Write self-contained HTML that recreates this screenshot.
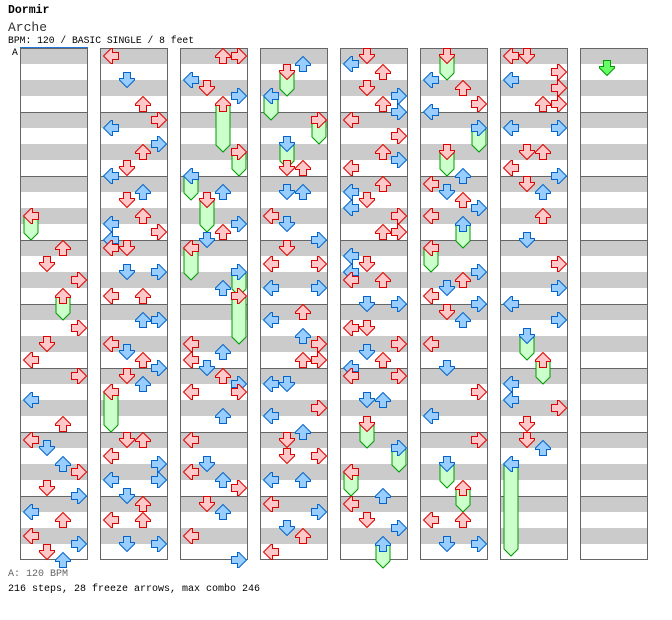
<!DOCTYPE html>
<html><head><meta charset="utf-8">
<style>
html,body{margin:0;padding:0;background:#fff;width:672px;height:620px;overflow:hidden;position:relative;font-family:"Liberation Mono",monospace;}
.t{position:absolute;white-space:pre;line-height:1;}
</style></head><body>
<div class="t" style="left:8px;top:5px;font-size:11.5px;font-weight:bold;">Dormir</div>
<div class="t" style="left:8px;top:21px;font-size:13px;color:#333;">Arche</div>
<div class="t" style="left:8px;top:36px;font-size:9.7px;">BPM: 120 / BASIC SINGLE / 8 feet</div>
<div class="t" style="left:12px;top:48px;font-size:9.7px;">A</div>
<div class="t" style="left:8px;top:570px;font-size:10px;color:#666;">A: 120 BPM</div>
<div class="t" style="left:8px;top:585px;font-size:10px;">216 steps, 28 freeze arrows, max combo 246</div>
<svg id="s" width="672" height="620" style="position:absolute;left:0;top:0" xmlns="http://www.w3.org/2000/svg"></svg>
<script>
var cols=[
"0,20,22 2,24 1,26 3,28 2,30,32 3,34 1,36 0,38 3,40 0,43 2,46 0,48 1,49 2,51 3,52 1,54 3,55 0,57 2,58 0,60 3,61 1,62 2,63",
"0,0 1,3 2,6 3,8 0,9 3,11 2,12 1,14 0,15 2,17 1,18 2,20 0,21 3,22 0,23 0,24 1,24 1,27 3,27 0,30 2,30 2,33 3,33 0,36 1,37 2,38 3,39 1,40 2,41 0,42,46 1,48 2,48 0,50 3,51 0,53 3,53 1,55 2,56 0,58 2,58 1,61 3,61",
"2,0 3,0 0,3 1,4 3,5 2,6,11 3,12,14 0,15,17 2,17 1,18,21 3,21 2,22 1,23 0,24,27 3,27,29 2,29 3,30,35 0,36 2,37 0,38 1,39 2,40 3,41 0,42 3,42 2,45 0,48 1,51 0,52 2,53 3,54 1,56 2,57 0,60 3,63",
"2,1 1,2,4 0,5,7 3,8,10 1,11,13 1,14 2,14 1,17 2,17 0,20 1,21 3,23 1,24 0,26 3,26 0,29 3,29 2,32 0,33 2,35 3,36 2,38 3,38 0,41 1,41 3,44 0,45 2,47 1,48 1,50 3,50 0,53 2,53 0,56 3,57 1,59 2,60 0,62",
"1,0 0,1 2,2 1,4 3,5 2,6 3,7 0,8 3,10 2,12 3,13 0,14 2,16 0,17 1,18 0,19 3,20 2,22 3,22 0,25 1,26 0,27 0,28 2,28 1,31 3,31 0,34 1,34 3,36 1,37 2,38 0,39 0,40 3,40 1,43 2,43 1,46,48 3,49,51 0,52,54 2,55 0,56 1,58 3,59 2,61,63",
"1,0,2 0,3 2,4 3,6 0,7 3,9,11 1,12,14 2,15 0,16 1,17 2,18 3,19 0,20 2,21,23 0,24,26 3,27 2,28 1,29 0,30 3,31 1,32 2,33 0,36 1,39 3,42 0,45 3,48 1,51,53 2,54,56 0,58 2,58 1,61 3,61",
"0,0 1,0 3,2 0,3 3,4 2,6 3,6 0,9 3,9 1,12 2,12 0,14 3,15 1,16 2,17 2,20 1,23 3,26 3,29 0,31 3,33 1,35,37 2,38,40 0,41 0,43 3,44 1,46 1,48 2,49 0,51,61.5",
""];
var NS="http://www.w3.org/2000/svg",s=document.getElementById("s"),h="";
var rot=[-90,180,0,90];
var AP="M8,0.5 L15.5,8 L15.5,9.5 L11.5,9.5 L11.5,15.5 L4.5,15.5 L4.5,9.5 L0.5,9.5 L0.5,8 Z";
for(var c=0;c<8;c++){
 var x0=20+80*c;
 h+='<rect x="'+x0+'" y="48" width="68" height="512" fill="#fff"/>';
 for(var k=0;k<16;k++) h+='<rect x="'+x0+'" y="'+(48+32*k)+'" width="68" height="16" fill="#cbcbcb"/>';
 for(var m=1;m<8;m++) h+='<line x1="'+x0+'" x2="'+(x0+68)+'" y1="'+(48.5+64*m)+'" y2="'+(48.5+64*m)+'" stroke="#666" stroke-width="1"/>';
 h+='<rect x="'+(x0+0.5)+'" y="48.5" width="67" height="511" fill="none" stroke="#666" stroke-width="1"/>';
}
h+='<line x1="20" x2="88" y1="47.5" y2="47.5" stroke="#2277dd" stroke-width="1"/>';
var fr="",ar="";
for(var c=0;c<8;c++){
 var x0=20+80*c;if(!cols[c])continue;
 cols[c].split(" ").forEach(function(e){
  var p=e.split(",").map(Number),l=p[0],r=p[1],x=x0+3+16*l,y=48+8*r;
  if(p.length>2){var tip=64+8*p[2];
   fr+='<polygon points="'+(x+1)+','+(y+8)+' '+(x+15)+','+(y+8)+' '+(x+15)+','+(tip-7)+' '+(x+8)+','+tip+' '+(x+1)+','+(tip-7)+'" fill="#ccffcc" stroke="#009900" stroke-width="1"/>';}
  var red=(r%2==0),f=red?"#ffc8c8":"#99ccff",st=red?"#dd0000":"#0066cc";
  ar+='<path d="'+AP+'" fill="'+f+'" stroke="'+st+'" stroke-width="1" transform="translate('+x+','+y+') rotate('+rot[l]+',8,8)"/>';
 });
}
ar+='<path d="'+AP+'" fill="#66ff66" stroke="#009900" stroke-width="1" transform="translate('+(580+3+16)+',60) rotate(180,8,8)"/>';
s.innerHTML=h+fr+ar;
</script>
</body></html>
